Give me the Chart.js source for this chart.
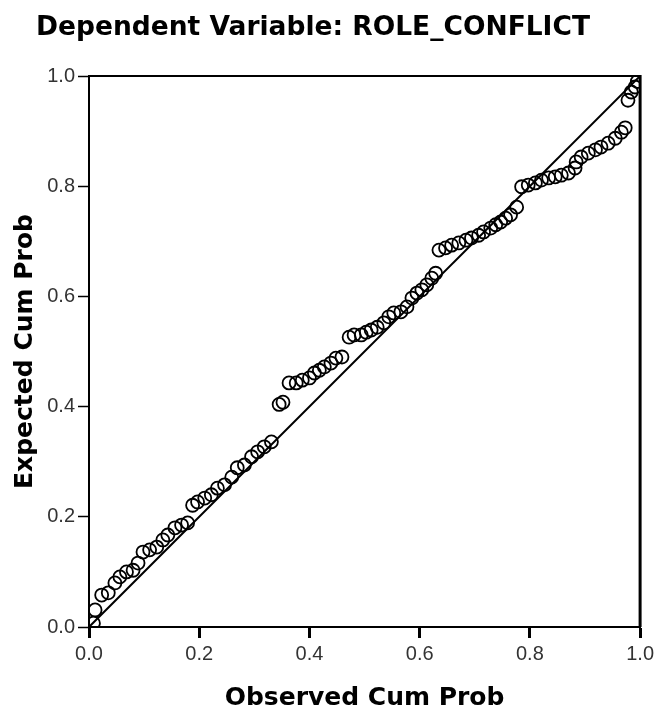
<!DOCTYPE html>
<html>
<head>
<meta charset="utf-8">
<title>P-P Plot</title>
<script src="https://cdn.jsdelivr.net/npm/chart.js@4.4.0/dist/chart.umd.min.js"></script>
<style>
    html, body { margin: 0; padding: 0; background: #fff; }
    canvas { display: block; }
</style>
</head>
<body>
<canvas id="ppPlot" width="658" height="710"></canvas>
<script>
// Normal P-P plot of regression standardized residual
const chartTitle = 'Dependent Variable: ROLE_CONFLICT';
const xAxisTitle = 'Observed Cum Prob';
const yAxisTitle = 'Expected Cum Prob';
const tickValues = [0.0, 0.2, 0.4, 0.6, 0.8, 1.0];

const observedCumProb = [
    0.008, 0.011, 0.023, 0.035, 0.047, 0.056, 0.068, 0.080, 0.089, 0.098,
    0.110, 0.123, 0.134, 0.143, 0.156, 0.168, 0.179, 0.188, 0.197, 0.210,
    0.222, 0.233, 0.246, 0.259, 0.269, 0.282, 0.295, 0.306, 0.318, 0.331,
    0.345, 0.352, 0.363, 0.376, 0.387, 0.400, 0.409, 0.418, 0.427, 0.439,
    0.448, 0.459, 0.472, 0.481, 0.494, 0.503, 0.512, 0.523, 0.535, 0.544,
    0.553, 0.566, 0.577, 0.586, 0.595, 0.604, 0.613, 0.622, 0.629, 0.635,
    0.647, 0.658, 0.671, 0.684, 0.694, 0.707, 0.716, 0.729, 0.738, 0.747,
    0.756, 0.765, 0.776, 0.785, 0.797, 0.810, 0.821, 0.834, 0.846, 0.857,
    0.870, 0.882, 0.884, 0.893, 0.906, 0.919, 0.929, 0.942, 0.955, 0.966,
    0.973, 0.978, 0.984, 0.991, 0.995
];
const expectedCumProb = [
    0.007, 0.031, 0.058, 0.062, 0.080, 0.091, 0.100, 0.103, 0.116, 0.136,
    0.140, 0.145, 0.158, 0.167, 0.180, 0.185, 0.189, 0.221, 0.227, 0.234,
    0.240, 0.252, 0.258, 0.272, 0.289, 0.294, 0.309, 0.318, 0.327, 0.336,
    0.404, 0.408, 0.443, 0.443, 0.448, 0.452, 0.461, 0.466, 0.472, 0.479,
    0.488, 0.490, 0.526, 0.530, 0.530, 0.535, 0.539, 0.544, 0.552, 0.563,
    0.570, 0.572, 0.581, 0.597, 0.606, 0.612, 0.621, 0.633, 0.642, 0.684,
    0.688, 0.693, 0.697, 0.702, 0.706, 0.711, 0.717, 0.724, 0.730, 0.735,
    0.742, 0.748, 0.762, 0.799, 0.802, 0.806, 0.811, 0.815, 0.817, 0.820,
    0.824, 0.833, 0.844, 0.853, 0.860, 0.866, 0.871, 0.878, 0.887, 0.898,
    0.906, 0.956, 0.971, 0.980, 0.990
];
// diagonal reference line end points
const referenceLine = [0, 1];

const tickFont = { family: "'Liberation Sans', Arial, sans-serif", size: 20 };
const titleFont = { family: "'DejaVu Sans', sans-serif", weight: 'bold', size: 25 };

// Title and the top/right frame lines
const framePlugin = {
    id: 'frame',
    afterDraw(chart) {
        const { ctx, chartArea: a } = chart;
        ctx.save();
        ctx.strokeStyle = '#000';
        ctx.lineWidth = 2;
        ctx.beginPath();
        ctx.moveTo(a.left, a.top);
        ctx.lineTo(a.right, a.top);
        ctx.stroke();
        ctx.lineWidth = 3;
        ctx.beginPath();
        ctx.moveTo(a.right, a.top - 1);
        ctx.lineTo(a.right, a.bottom);
        ctx.stroke();

        ctx.fillStyle = '#000';
        ctx.font = "bold 26.5px 'DejaVu Sans', sans-serif";
        ctx.textAlign = 'center';
        ctx.textBaseline = 'middle';
        ctx.fillText(chartTitle, 313, 28);
        ctx.restore();
    }
};

const setTicks = scale => {
    scale.ticks = tickValues.map(v => ({ value: v }));
};

new Chart(document.getElementById('ppPlot'), {
    type: 'scatter',
    data: {
        datasets: [
            {
                label: 'Residuals',
                data: observedCumProb.map((x, i) => ({ x: x, y: expectedCumProb[i] })),
                pointRadius: 6.5,
                pointBorderWidth: 1.8,
                borderColor: '#000',
                backgroundColor: 'rgba(0,0,0,0)',
                showLine: false
            },
            {
                label: 'Reference',
                data: referenceLine.map(v => ({ x: v, y: v })),
                showLine: true,
                borderColor: '#000',
                borderWidth: 2,
                pointRadius: 0
            }
        ]
    },
    options: {
        responsive: false,
        animation: false,
        devicePixelRatio: 1,
        layout: { padding: { top: 76, right: 16, bottom: 0, left: 0 } },
        plugins: {
            legend: { display: false },
            tooltip: { enabled: false }
        },
        scales: {
            x: {
                type: 'linear',
                min: 0,
                max: 1,
                afterBuildTicks: setTicks,
                afterFit: s => { s.height = 83; },
                grid: { drawOnChartArea: false, drawTicks: true, tickLength: 11, tickWidth: 3, tickColor: '#000' },
                border: { display: true, color: '#000', width: 2 },
                ticks: { color: '#333', font: tickFont, padding: 4, maxRotation: 0, autoSkip: false,
                         callback: v => v.toFixed(1) },
                title: { display: true, text: xAxisTitle, color: '#000', font: titleFont,
                         padding: { top: 0, bottom: -3 } }
            },
            y: {
                type: 'linear',
                min: 0,
                max: 1,
                afterBuildTicks: setTicks,
                afterFit: s => { s.width = 89; },
                grid: { drawOnChartArea: false, drawTicks: true, tickLength: 11, tickWidth: 1.5, tickColor: '#000' },
                border: { display: true, color: '#000', width: 2 },
                ticks: { color: '#333', font: tickFont, padding: 3, autoSkip: false,
                         callback: v => v.toFixed(1) },
                title: { display: true, text: yAxisTitle, color: '#000', font: titleFont,
                         padding: { top: 10, bottom: 0 } }
            }
        }
    },
    plugins: [framePlugin]
});
</script>
</body>
</html>
